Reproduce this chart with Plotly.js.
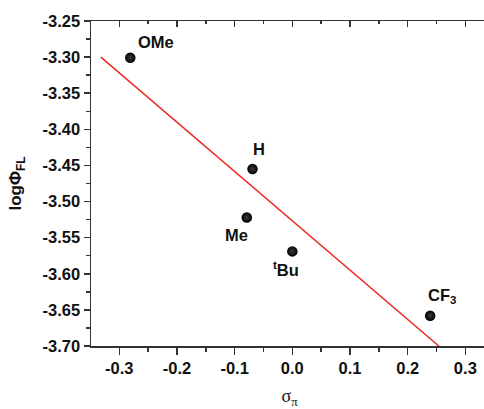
<!DOCTYPE html>
<html>
<head>
<meta charset="utf-8">
<script src="https://cdn.plot.ly/plotly-3.0.1.min.js"></script>
<style>html,body{margin:0;padding:0;overflow:hidden;background:#fff;}</style>
</head>
<body>
<div id="chart"></div>
<script>
var labels = ['OMe', 'H', 'Me', '<sup>t</sup>Bu', 'CF<sub>3</sub>'];
var sigmaPi = [-0.281, -0.069, -0.079, 0.0, 0.239];
var logPhi = [-3.301, -3.455, -3.522, -3.569, -3.658];
var fitX = [-0.332, 0.254];
var fitY = [-3.300, -3.700];
var xTicks = [-0.3, -0.2, -0.1, 0.0, 0.1, 0.2, 0.3];
var xTickText = ['-0.3', '-0.2', '-0.1', '0.0', '0.1', '0.2', '0.3'];
var yTicks = [-3.70, -3.65, -3.60, -3.55, -3.50, -3.45, -3.40, -3.35, -3.30, -3.25];
var yTickText = ['-3.70', '-3.65', '-3.60', '-3.55', '-3.50', '-3.45', '-3.40', '-3.35', '-3.30', '-3.25'];
// label offsets (px) relative to each point
var labelShiftX = [26, 6, -10, -6, 12];
var labelShiftY = [16, 20, -18, -18, 20];

var tickFont = {family: 'Liberation Sans, Arial, sans-serif', size: 16.5, color: '#111', weight: 'bold'};

var traces = [
  {
    x: fitX, y: fitY, mode: 'lines', type: 'scatter',
    line: {color: '#ee2a24', width: 1.5}, hoverinfo: 'skip'
  },
  {
    x: sigmaPi, y: logPhi, mode: 'markers', type: 'scatter',
    marker: {size: 10.5, color: '#000', gradient: {type: 'radial', color: '#3c3c3c'}, line: {width: 0}}
  },
  {
    x: [0], y: [-3.5], xaxis: 'x2', mode: 'markers', marker: {opacity: 0}, hoverinfo: 'skip'
  }
];

var annotations = labels.map(function (t, i) {
  return {
    x: sigmaPi[i], y: logPhi[i], text: t, showarrow: false,
    xshift: labelShiftX[i], yshift: labelShiftY[i],
    font: {family: 'Liberation Sans, Arial, sans-serif', size: 16.5, color: '#111', weight: 'bold'}
  };
});

var layout = {
  width: 492, height: 409,
  margin: {l: 91, r: 4, t: 21, b: 63},
  showlegend: false,
  paper_bgcolor: '#fff', plot_bgcolor: '#fff',
  xaxis: {
    range: [-0.3491, 0.3393], tickvals: xTicks, ticktext: xTickText,
    ticks: 'outside', ticklen: 7, tickwidth: 1.5, tickcolor: '#333',
    minor: {dtick: 0.05, tick0: 0, ticks: 'outside', ticklen: 4, tickwidth: 1.5, tickcolor: '#333'},
    showline: true, linecolor: '#333', linewidth: 1.5, mirror: true,
    showgrid: false, zeroline: false, tickfont: tickFont,
    title: {text: 'σ<sub>π</sub>', font: {family: 'Liberation Serif, Times New Roman, serif', size: 18, color: '#111'}, standoff: 18}
  },
  xaxis2: {
    overlaying: 'x', side: 'top', matches: 'x', range: [-0.3491, 0.3393],
    tickvals: xTicks, showticklabels: false, ticks: 'inside', ticklen: 6, tickwidth: 1.5, tickcolor: '#333',
    minor: {dtick: 0.05, tick0: 0, ticks: 'inside', ticklen: 3, tickwidth: 1.5, tickcolor: '#333'},
    showgrid: false, zeroline: false, showline: false
  },
  yaxis: {
    range: [-3.70, -3.25], tickvals: yTicks, ticktext: yTickText,
    ticks: 'outside', ticklen: 6, tickwidth: 1.5, tickcolor: '#333',
    minor: {dtick: 0.025, tick0: -3.7, ticks: 'outside', ticklen: 3.5, tickwidth: 1.5, tickcolor: '#333'},
    showline: true, linecolor: '#333', linewidth: 1.5, mirror: true,
    showgrid: false, zeroline: false, tickfont: tickFont,
    title: {text: 'logΦ<sub>FL</sub>', font: {family: 'Liberation Sans, Arial, sans-serif', size: 17, color: '#111', weight: 'bold'}, standoff: 16}
  },
  annotations: annotations
};

Plotly.newPlot('chart', traces, layout, {displayModeBar: false, staticPlot: true});
</script>
</body>
</html>
